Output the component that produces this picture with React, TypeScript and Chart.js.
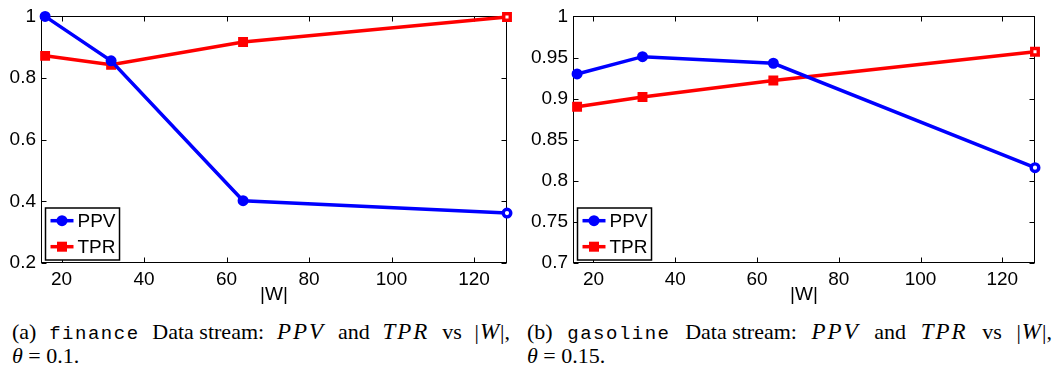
import React, { useEffect, useRef } from "react";
import { Chart, registerables } from "chart.js";

Chart.register(...registerables);

// ---- data ----
const windowSizes = [16, 32, 64, 128];
const financePPV = [1.0, 0.856, 0.402, 0.362];
const financeTPR = [0.872, 0.843, 0.917, 0.998];
const gasolinePPV = [0.93, 0.951, 0.943, 0.816];
const gasolineTPR = [0.89, 0.902, 0.922, 0.957];
const xTickValues = [20, 40, 60, 80, 100, 120];
const financeYTicks = [0.2, 0.4, 0.6, 0.8, 1];
const gasolineYTicks = [0.7, 0.75, 0.8, 0.85, 0.9, 0.95, 1];
const seriesLabels = ["PPV", "TPR"];
const xAxisLabel = "|W|";

const BLUE = "#0000ff";
const RED = "#ff0000";
const TICK_FONT = "'Liberation Sans', Arial, sans-serif";

const framePlugin = {
  id: "matlabFrame",
  beforeDatasetsDraw(chart: any) {
    const { ctx, chartArea: a, scales } = chart;
    const L = Math.round(a.left) + 0.5;
    const R = Math.round(a.right) - 0.5;
    const T = Math.round(a.top) + 0.5;
    const B = Math.round(a.bottom) - 0.5;
    ctx.save();
    ctx.strokeStyle = "#000";
    ctx.lineWidth = 1;
    ctx.strokeRect(L, T, R - L, B - T);
    const tl = 5;
    ctx.beginPath();
    for (const t of scales.x.ticks) {
      const px = Math.round(scales.x.getPixelForValue(t.value)) + 0.5;
      ctx.moveTo(px, B);
      ctx.lineTo(px, B - tl);
      ctx.moveTo(px, T);
      ctx.lineTo(px, T + tl);
    }
    for (const t of scales.y.ticks) {
      const py = Math.round(scales.y.getPixelForValue(t.value)) + 0.5;
      ctx.moveTo(L, py);
      ctx.lineTo(L + tl, py);
      ctx.moveTo(R, py);
      ctx.lineTo(R - tl, py);
    }
    ctx.stroke();
    ctx.restore();
  },
  afterDraw(chart: any) {
    const { ctx, chartArea: a } = chart;
    const ds = chart.data.datasets;
    ctx.save();
    ctx.font = `19px ${TICK_FONT}`;
    let textW = 0;
    for (const d of ds) textW = Math.max(textW, ctx.measureText(d.label).width);
    const padL = 5, sample = 23, gap = 4, padR = 4;
    const w = padL + sample + gap + textW + padR;
    const h = 52;
    const x0 = a.left + 4.5;
    const y0 = a.bottom - 3 - h;
    ctx.fillStyle = "#fff";
    ctx.fillRect(x0, y0, w, h);
    ctx.strokeStyle = "#000";
    ctx.lineWidth = 1.5;
    ctx.strokeRect(x0, y0, w, h);
    ds.forEach((d: any, i: number) => {
      const cy = y0 + 12.7 + i * 26;
      const sx = x0 + padL;
      ctx.strokeStyle = d.borderColor;
      ctx.lineWidth = 3.5;
      ctx.beginPath();
      ctx.moveTo(sx, cy);
      ctx.lineTo(sx + sample, cy);
      ctx.stroke();
      ctx.fillStyle = d.borderColor;
      const mx = sx + sample / 2;
      if (d.pointStyle === "rect") {
        ctx.fillRect(mx - 5, cy - 5, 10, 10);
      } else {
        ctx.beginPath();
        ctx.arc(mx, cy, 5.5, 0, Math.PI * 2);
        ctx.fill();
      }
      ctx.fillStyle = "#000";
      ctx.textBaseline = "middle";
      ctx.textAlign = "left";
      ctx.fillText(d.label, sx + sample + gap, cy + 1);
    });
    ctx.restore();
  },
};

function fmt(v: number) {
  return String(Number(v.toFixed(2)));
}

function makeConfig(
  ppv: number[],
  tpr: number[],
  yTicks: number[],
  yMin: number,
  yMax: number,
  yWidth: number,
  padTop: number,
  padRight: number,
  xHeight: number
): any {
  const pts = (vals: number[]) => windowSizes.map((x, i) => ({ x, y: vals[i] }));
  const bg = (c: string) => windowSizes.map((_, i) => (i === windowSizes.length - 1 ? "#fff" : c));
  return {
    type: "line",
    data: {
      datasets: [
        {
          label: seriesLabels[0],
          data: pts(ppv),
          borderColor: BLUE,
          backgroundColor: BLUE,
          borderWidth: 3.5,
          pointStyle: "circle",
          pointRadius: 3.8,
          pointBorderWidth: 3.4,
          pointBorderColor: BLUE,
          pointBackgroundColor: bg(BLUE),
          tension: 0,
          clip: false,
        },
        {
          label: seriesLabels[1],
          data: pts(tpr),
          borderColor: RED,
          backgroundColor: RED,
          borderWidth: 3.5,
          pointStyle: "rect",
          pointRadius: 4.6,
          pointBorderWidth: 3.4,
          pointBorderColor: RED,
          pointBackgroundColor: bg(RED),
          tension: 0,
          clip: false,
        },
      ],
    },
    options: {
      animation: false,
      responsive: false,
      events: [],
      layout: { padding: { top: padTop, right: padRight, left: 0, bottom: 0 } },
      plugins: { legend: { display: false }, tooltip: { enabled: false } },
      scales: {
        x: {
          type: "linear",
          min: 15,
          max: 128,
          grid: { display: false, drawTicks: false },
          border: { display: false },
          afterBuildTicks: (s: any) => {
            s.ticks = xTickValues.map((v) => ({ value: v }));
          },
          afterFit: (s: any) => {
            s.height = xHeight;
          },
          ticks: {
            padding: 5,
            color: "#000",
            font: { family: TICK_FONT, size: 19 },
            maxRotation: 0,
            autoSkip: false,
            callback: (v: number) => String(v),
          },
          title: {
            display: true,
            text: xAxisLabel,
            color: "#000",
            font: { family: TICK_FONT, size: 19 },
            padding: { top: 0, bottom: 4 },
          },
        },
        y: {
          type: "linear",
          min: yMin,
          max: yMax,
          grid: { display: false, drawTicks: false },
          border: { display: false },
          afterBuildTicks: (s: any) => {
            s.ticks = yTicks.map((v) => ({ value: v }));
          },
          afterFit: (s: any) => {
            s.width = yWidth;
          },
          ticks: {
            padding: 5,
            color: "#000",
            font: { family: TICK_FONT, size: 19 },
            autoSkip: false,
            callback: (v: number) => fmt(v),
          },
        },
      },
    },
    plugins: [framePlugin],
  };
}

function ChartCanvas(props: { config: () => any; left: number; width: number; height: number }) {
  const ref = useRef<HTMLCanvasElement | null>(null);
  useEffect(() => {
    if (!ref.current) return;
    const c = new Chart(ref.current, props.config());
    return () => c.destroy();
  }, []);
  return (
    <canvas
      ref={ref}
      width={props.width}
      height={props.height}
      style={{ position: "absolute", left: props.left, top: 0, width: props.width, height: props.height }}
    />
  );
}

const serif = "'Liberation Serif', 'Times New Roman', serif";
const mono: React.CSSProperties = {
  fontFamily: "'Liberation Mono', 'DejaVu Sans Mono', monospace",
  fontSize: 19,
  letterSpacing: 1.5,
};
const mathStyle: React.CSSProperties = { fontStyle: "italic", letterSpacing: 2, fontSize: 23 };

function Caption(props: { left: number; width: number; tag: string; name: string; theta: string }) {
  return (
    <div
      style={{
        position: "absolute",
        left: props.left,
        top: 321,
        width: props.width,
        fontFamily: serif,
        fontSize: 22,
        lineHeight: "22px",
        color: "#000",
      }}
    >
      <div style={{ whiteSpace: "nowrap", display: "flex", justifyContent: "space-between", alignItems: "baseline" }}>
        <span>({props.tag})</span>
        <span style={mono}>{props.name}</span>
        <span>Data stream:</span>
        <span style={mathStyle}>PPV</span>
        <span>and</span>
        <span style={mathStyle}>TPR</span>
        <span>vs</span>
        <span>
          |<span style={{ fontStyle: "italic", fontSize: 23, padding: "0 1px" }}>W</span>|,
        </span>
      </div>
      <div>
        <i>θ</i> = {props.theta}.
      </div>
    </div>
  );
}

export default function App() {
  return (
    <div style={{ position: "absolute", left: 0, top: 0, width: 1053, height: 376, background: "#fff", overflow: "hidden" }}>
      <ChartCanvas
        left={0}
        width={520}
        height={310}
        config={() => makeConfig(financePPV, financeTPR, financeYTicks, 0.2, 1, 41, 13, 13, 47)}
      />
      <ChartCanvas
        left={530}
        width={523}
        height={310}
        config={() => makeConfig(gasolinePPV, gasolineTPR, gasolineYTicks, 0.7, 1, 43, 14, 18, 47)}
      />
      <Caption left={12} width={498} tag="a" name="finance" theta="0.1" />
      <Caption left={527} width={525} tag="b" name="gasoline" theta="0.15" />
    </div>
  );
}
